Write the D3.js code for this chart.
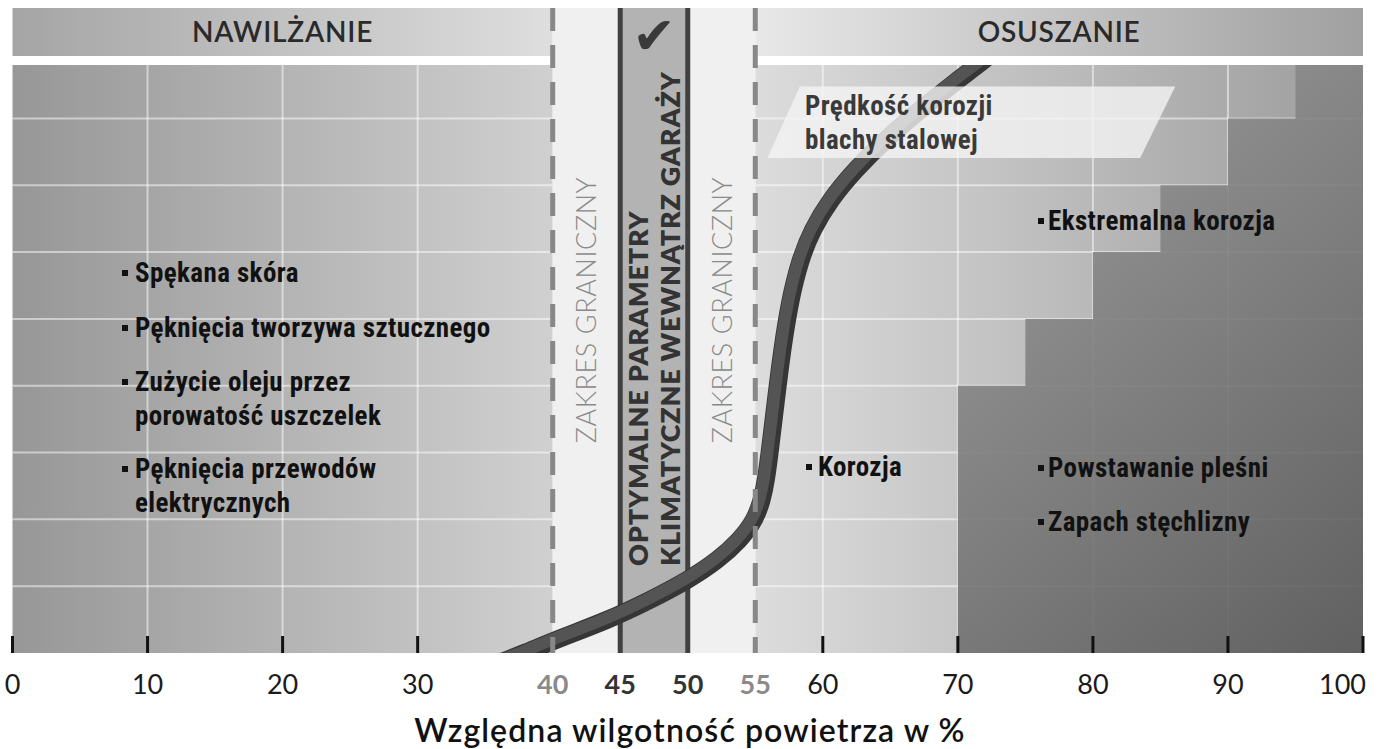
<!DOCTYPE html>
<html><head><meta charset="utf-8">
<script src="https://cdn.jsdelivr.net/npm/d3@7"></script>
<style>
html,body{margin:0;padding:0;background:#fff;}
svg{display:block;}
</style></head>
<body><svg id="c" width="1379" height="749"></svg>
<script>
// ---------- data ----------
const xTicks = [0,10,20,30,40,45,50,55,60,70,80,90,100];
const gridX = [10,20,30,60,70,80,90];
const gridY = [1,2,3,4,5,6,7,8];
const humidifyRange = [0,40];
const boundaryRange = [40,55];
const optimalRange = [45,50];
const dehumidifyRange = [55,100];
// mould / extreme corrosion zone: [humidity from, upper level]
const moldSteps = [[70,4],[75,5],[80,6],[85,7],[90,8],[95,8.8],[100,8.8]];
// corrosion speed of steel sheet: [humidity %, relative level]
const corrosionCurve = [[36.0,-0.15],[37.95,0],[40.24,0.2],[44.09,0.49],[47.2,0.79],[50.02,1.09],[52.24,1.39],[53.87,1.69],[54.98,1.99],[55.5,2.29],[55.8,2.59],[56.09,3.04],[56.53,3.79],[56.98,4.53],[57.57,5.28],[58.31,5.88],[59.2,6.33],[60.53,6.78],[62.38,7.23],[64.61,7.68],[67.2,8.13],[70.01,8.58],[71.49,8.8],[73.0,9.05]];
const zoneTitles = ["NAWILŻANIE","OSUSZANIE"];
const boundaryText = "ZAKRES GRANICZNY";
const optimalText = ["OPTYMALNE PARAMETRY","KLIMATYCZNE WEWNĄTRZ GARAŻY"];
const curveLabel = ["Prędkość korozji","blachy stalowej"];
const dryEffects = [["Spękana skóra"],["Pęknięcia tworzywa sztucznego"],["Zużycie oleju przez","porowatość uszczelek"],["Pęknięcia przewodów","elektrycznych"]];
const corrosionEffects = [["Korozja"]];
const extremeEffects = [["Ekstremalna korozja"]];
const moldEffects = [["Powstawanie pleśni"],["Zapach stęchlizny"]];
const axisTitle = "Względna wilgotność powietrza w %";

// ---------- layout ----------
const plotTop = 65, plotBottom = 653, headTop = 8, headBottom = 56;
const x = d3.scaleLinear().domain([0,100]).range([12.5,1363]);
const y = d3.scaleLinear().domain([0,8.8]).range([plotBottom,plotTop]);
const svg = d3.select("#c");
const defs = svg.append("defs");
const sans = "Lato, 'Open Sans', sans-serif";
const narrow = "'Liberation Sans Narrow','Arial Narrow','Roboto Condensed','DejaVu Sans Condensed',sans-serif";
function lin(id, x1,y1,x2,y2, stops){
  const g = defs.append("linearGradient").attr("id",id).attr("gradientUnits","userSpaceOnUse")
    .attr("x1",x1).attr("y1",y1).attr("x2",x2).attr("y2",y2);
  stops.forEach(([o,c])=>g.append("stop").attr("offset",o).attr("stop-color",c));
}
lin("gHeadL", x(0),0,x(40),0, [[0,"#a5a5a5"],[1,"#dedede"]]);
lin("gHeadR", x(55),0,x(100),0, [[0,"#e8e8e8"],[1,"#a0a0a0"]]);
lin("gPlotL", x(0),0,x(40),0, [[0,"#979797"],[1,"#d0d0d0"]]);
lin("gPlotR", x(55),0,x(100),0, [[0,"#dcdcdc"],[1,"#9c9c9c"]]);
lin("gMold", x(70),y(8),x(100),y(0), [[0,"#979797"],[1,"#5a5a5a"]]);
defs.append("clipPath").attr("id","clipPlot").append("rect")
  .attr("x",x(0)).attr("y",plotTop).attr("width",x(100)-x(0)).attr("height",plotBottom-plotTop);

// headers
svg.append("rect").attr("x",x(humidifyRange[0])).attr("y",headTop).attr("width",x(humidifyRange[1])-x(humidifyRange[0])).attr("height",headBottom-headTop).attr("fill","url(#gHeadL)");
svg.append("rect").attr("x",x(dehumidifyRange[0])).attr("y",headTop).attr("width",x(dehumidifyRange[1])-x(dehumidifyRange[0])).attr("height",headBottom-headTop).attr("fill","url(#gHeadR)");
// plot backgrounds
svg.append("rect").attr("x",x(humidifyRange[0])).attr("y",plotTop).attr("width",x(humidifyRange[1])-x(humidifyRange[0])).attr("height",plotBottom-plotTop).attr("fill","url(#gPlotL)");
svg.append("rect").attr("x",x(dehumidifyRange[0])).attr("y",plotTop).attr("width",x(dehumidifyRange[1])-x(dehumidifyRange[0])).attr("height",plotBottom-plotTop).attr("fill","url(#gPlotR)");

// grid
const grid = svg.append("g").attr("stroke","#ffffff").attr("stroke-opacity",0.5).attr("stroke-width",2);
grid.selectAll("line.v").data(gridX).join("line").attr("class","v")
  .attr("x1",d=>x(d)).attr("x2",d=>x(d)).attr("y1",plotTop).attr("y2",plotBottom);
[humidifyRange, dehumidifyRange].forEach(r=>{
  grid.append("g").selectAll("line").data(gridY).join("line")
    .attr("x1",x(r[0])).attr("x2",x(r[1])).attr("y1",d=>y(d)).attr("y2",d=>y(d));
});

// mould zone
svg.append("path").datum(moldSteps)
  .attr("d", d3.area().curve(d3.curveStepAfter).x(d=>x(d[0])).y0(y(0)).y1(d=>y(d[1])))
  .attr("fill","url(#gMold)").attr("fill-opacity",0.9);

// boundary band and optimal band
svg.append("rect").attr("x",x(boundaryRange[0])).attr("y",headTop).attr("width",x(boundaryRange[1])-x(boundaryRange[0])).attr("height",plotBottom-headTop).attr("fill","#f0f0f0");
svg.append("rect").attr("x",x(optimalRange[0])).attr("y",headTop).attr("width",x(optimalRange[1])-x(optimalRange[0])).attr("height",plotBottom-headTop).attr("fill","#b3b3b3");
svg.append("g").selectAll("line").data(optimalRange).join("line")
  .attr("x1",d=>x(d)).attr("x2",d=>x(d)).attr("y1",headTop).attr("y2",plotBottom)
  .attr("stroke","#404040").attr("stroke-width",5);

// vertical texts
[(boundaryRange[0]+optimalRange[0])/2, (optimalRange[1]+boundaryRange[1])/2].forEach(v=>{
  svg.append("text").attr("transform",`translate(${x(v)+10},310) rotate(-90)`)
    .attr("text-anchor","middle").attr("font-family",sans).attr("font-weight",300)
    .attr("font-size",27).attr("letter-spacing",0.6).attr("fill","#8a8a8a").text(boundaryText);
});
optimalText.forEach((t,i)=>{
  const cx = x((optimalRange[0]+optimalRange[1])/2) - 16 + i*32;
  svg.append("text").attr("transform",`translate(${cx+10},566) rotate(-90)`)
    .attr("text-anchor","start").attr("font-family",sans).attr("font-weight",800)
    .attr("font-size",27).attr("letter-spacing",0.8).attr("fill","#333").text(t);
});

// corrosion curve
const cg = svg.append("g").attr("clip-path","url(#clipPlot)");
const line = d3.line().curve(d3.curveBasis).x(d=>x(d[0])).y(d=>y(d[1]));
cg.append("path").datum(corrosionCurve).attr("d",line).attr("fill","none").attr("stroke","#363636").attr("stroke-width",18);
cg.append("path").datum(corrosionCurve).attr("d",line).attr("fill","none").attr("stroke","#545454").attr("stroke-width",12)
  .attr("transform","translate(-2,-1.2)");

// dashed boundary lines
svg.append("g").selectAll("line").data(boundaryRange).join("line")
  .attr("x1",d=>x(d)).attr("x2",d=>x(d)).attr("y1",headTop).attr("y2",plotBottom)
  .attr("stroke","#888").attr("stroke-width",5).attr("stroke-dasharray","23,14");

// curve label parallelogram
const pg = [[58.3,8.48],[86.1,8.48],[83.5,7.41],[55.9,7.41]];
svg.append("path").attr("d", "M"+pg.map(p=>[x(p[0]),y(p[1])].join(",")).join("L")+"Z")
  .attr("fill","#f4f4f4").attr("fill-opacity",0.8);
curveLabel.forEach((t,i)=>{
  svg.append("text").attr("x",805).attr("y",115+i*34).attr("font-family",narrow).attr("font-weight",700)
    .attr("font-size",27).attr("letter-spacing",0.4).attr("fill","#3a3a3a").text(t);
});

// bullet labels
function bullets(groups, bx, tx, baselines){
  groups.forEach((lines,gi)=>{
    svg.append("rect").attr("x",bx).attr("y",baselines[gi]-12).attr("width",6).attr("height",6).attr("fill","#111");
    lines.forEach((t,li)=>{
      svg.append("text").attr("x",tx).attr("y",baselines[gi]+li*34).attr("font-family",narrow).attr("font-weight",700)
        .attr("font-size",27).attr("letter-spacing",0.4).attr("fill","#111").text(t);
    });
  });
}
bullets(dryEffects, 122, 135, [282,337,391,478]);
bullets(corrosionEffects, 806, 818, [476]);
bullets(extremeEffects, 1038, 1048, [230]);
bullets(moldEffects, 1038, 1048, [477,531]);

// ticks
const plainTicks = xTicks.filter(d=>d<boundaryRange[0]||d>boundaryRange[1]);
svg.append("g").selectAll("line").data(plainTicks).join("line")
  .attr("x1",d=>x(d)).attr("x2",d=>x(d)).attr("y1",636).attr("y2",plotBottom)
  .attr("stroke","#111").attr("stroke-width",3);
svg.append("g").selectAll("text").data(xTicks).join("text")
  .attr("x",d=>d===100?x(d)+3:x(d)).attr("y",694)
  .attr("text-anchor",d=>d===100?"end":"middle")
  .attr("font-family",sans).attr("font-size",27)
  .attr("font-weight",d=>(d>=boundaryRange[0]&&d<=boundaryRange[1])?700:400)
  .attr("fill",d=>(d===boundaryRange[0]||d===boundaryRange[1])?"#8a8a8a":(d===optimalRange[0]||d===optimalRange[1])?"#333":"#1a1a1a")
  .text(d=>d);

// axis title
svg.append("text").attr("x",690).attr("y",742).attr("text-anchor","middle")
  .attr("font-family",sans).attr("font-size",32).attr("font-weight",600).attr("letter-spacing",1.1).attr("fill","#111").text(axisTitle);

// header titles
svg.append("text").attr("x",x(20)).attr("y",42).attr("text-anchor","middle").attr("font-family",sans)
  .attr("font-size",28).attr("font-weight",600).attr("letter-spacing",0.8).attr("fill","#2a2a2a").text(zoneTitles[0]);
svg.append("text").attr("x",x(77.5)).attr("y",42).attr("text-anchor","middle").attr("font-family",sans)
  .attr("font-size",28).attr("font-weight",600).attr("letter-spacing",0.8).attr("fill","#2a2a2a").text(zoneTitles[1]);
// check mark
svg.append("text").attr("x",x((optimalRange[0]+optimalRange[1])/2)).attr("y",54).attr("text-anchor","middle")
  .attr("font-family","'DejaVu Sans',sans-serif").attr("font-size",52).attr("fill","#3a3a3a").text("✔");
</script>
</body></html>
